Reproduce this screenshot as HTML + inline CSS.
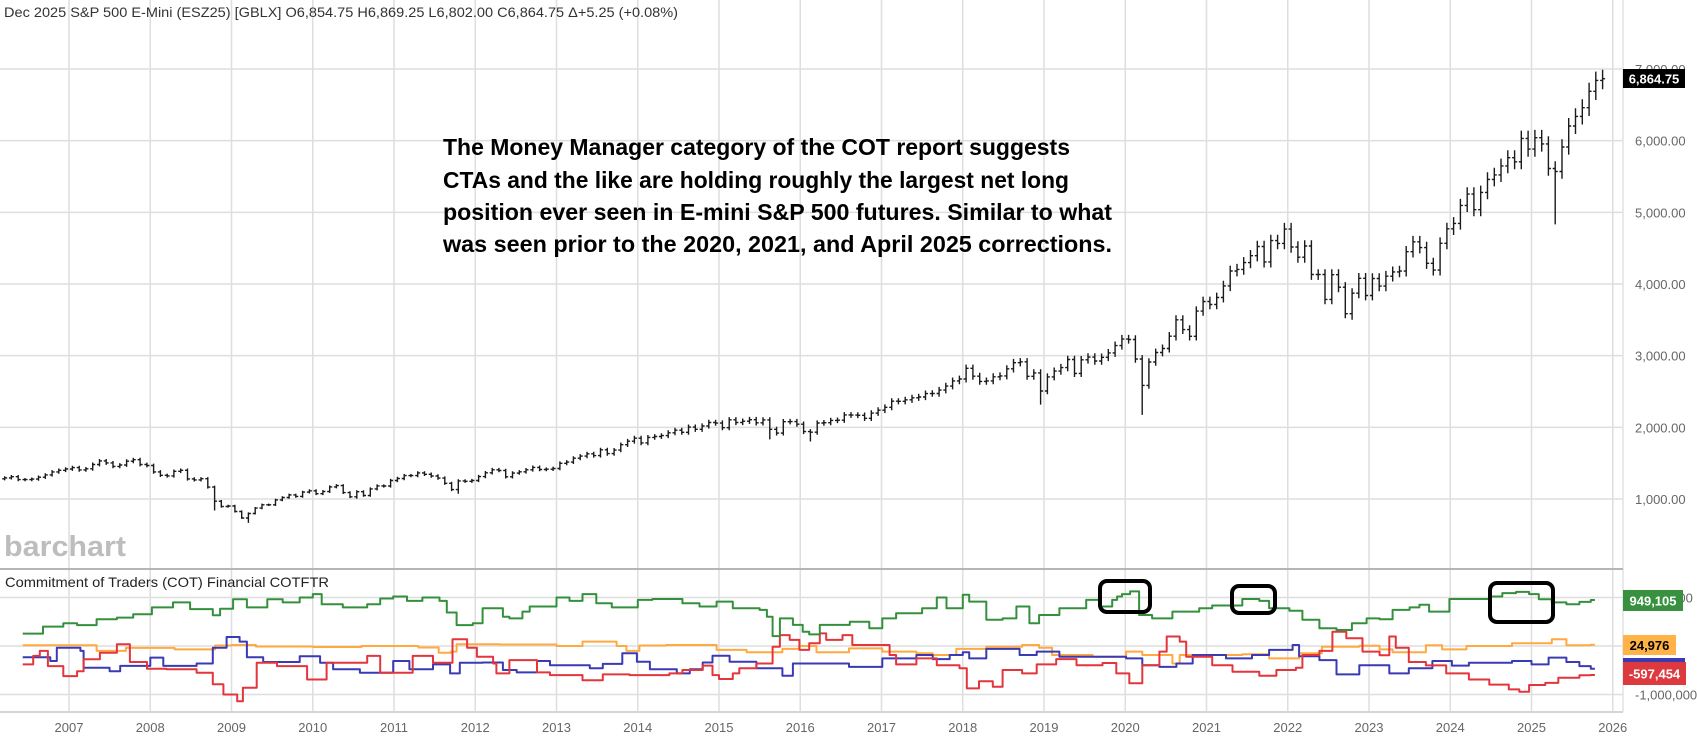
<!DOCTYPE html>
<html><head><meta charset="utf-8"><title>S&P 500 E-Mini with COT</title>
<style>
html,body{margin:0;padding:0;background:#fff;}
svg{display:block;font-family:"Liberation Sans",sans-serif;}
</style></head>
<body>
<svg id="chart" width="1697" height="739" viewBox="0 0 1697 739" xmlns="http://www.w3.org/2000/svg">
<rect x="0" y="0" width="1697" height="739" fill="#fff"/>
<g id="grid"></g>
<text x="4" y="17" font-size="14" fill="#333" textLength="674" lengthAdjust="spacingAndGlyphs">Dec 2025 S&amp;P 500 E-Mini (ESZ25) [GBLX]  O6,854.75  H6,869.25  L6,802.00  C6,864.75  Δ+5.25 (+0.08%)</text>
<g font-size="23" font-weight="bold" fill="#000">
<text x="443" y="155" textLength="627" lengthAdjust="spacingAndGlyphs">The Money Manager category of the COT report suggests</text>
<text x="443" y="188" textLength="626" lengthAdjust="spacingAndGlyphs">CTAs and the like are holding roughly the largest net long</text>
<text x="443" y="220" textLength="669" lengthAdjust="spacingAndGlyphs">position ever seen in E-mini S&amp;P 500 futures. Similar to what</text>
<text x="443" y="252" textLength="669" lengthAdjust="spacingAndGlyphs">was seen prior to the 2020, 2021, and April 2025 corrections.</text>
</g>
<text x="4" y="556" font-size="29" font-weight="bold" fill="#bdbdbd" textLength="122" lengthAdjust="spacingAndGlyphs">barchart</text>
<line x1="0" y1="569" x2="1623" y2="569" stroke="#b5b5b5" stroke-width="2"/>
<text x="5" y="587" font-size="14" fill="#222" textLength="324" lengthAdjust="spacingAndGlyphs">Commitment of Traders (COT) Financial  COTFTR</text>
<g id="bars"></g>
<g id="cot"></g>
<g id="axes"></g>
<g fill="none" stroke="#000" stroke-width="4">
<rect x="1100" y="581" width="50" height="31" rx="7"/>
<rect x="1232" y="586" width="43" height="27" rx="7"/>
<rect x="1490" y="583" width="63" height="39" rx="7"/>
</g>
</svg>
<script>
const years = [2007,2008,2009,2010,2011,2012,2013,2014,2015,2016,2017,2018,2019,2020,2021,2022,2023,2024,2025,2026];
const priceTicks = [1000,2000,3000,4000,5000,6000,7000];
const cotTicks = [1000,0,-1000];
const priceStart = 2006 + 2/12;
const closes = [
1295,1311,1270,1270,1277,1304,1336,1378,1401,1418,
1438,1406,1421,1482,1531,1503,1455,1474,1527,1549,1481,1468,
1378,1331,1323,1386,1400,1280,1267,1283,1166,969,896,903,
826,735,798,873,919,919,987,1021,1057,1036,1096,1115,
1074,1104,1169,1187,1089,1031,1102,1049,1141,1183,1181,1258,
1286,1327,1326,1364,1345,1321,1292,1219,1131,1253,1247,1258,
1312,1366,1408,1398,1310,1362,1379,1407,1441,1412,1416,1426,
1498,1515,1569,1598,1631,1606,1686,1633,1682,1757,1806,1848,
1783,1859,1872,1884,1924,1960,1931,2003,1972,2018,2068,2059,
1995,2105,2068,2086,2107,2063,2104,1972,1920,2079,2080,2044,
1940,1932,2060,2065,2097,2099,2174,2171,2168,2126,2199,2239,
2279,2364,2363,2384,2412,2423,2470,2472,2519,2575,2648,2674,
2824,2714,2641,2648,2705,2718,2816,2902,2914,2712,2760,2507,
2704,2784,2834,2946,2752,2942,2980,2926,2977,3038,3141,3231,
3226,2954,2585,2912,3044,3100,3271,3500,3363,3270,3622,3756,
3714,3811,3973,4181,4204,4298,4395,4523,4308,4605,4567,4766,
4516,4374,4530,4132,4132,3785,4130,3955,3586,3872,4080,3840,
4077,3970,4109,4169,4180,4450,4589,4508,4288,4194,4568,4770,
4846,5096,5254,5036,5278,5460,5522,5648,5762,5705,6032,5882,
6041,5955,5612,5569,5912,6205,6339,6460,6688,6840,6865];
const lowMonths = ['2008-10','2009-3','2010-7','2011-10','2015-8','2016-2','2018-12','2020-3','2022-10','2025-4'];
const lowValues = [840,667,1003,1074,1831,1802,2317,2174,3502,4832];

const seriesEnd = 2025.78;
const greenT = [2006.43,2006.68,2006.93,2007.10,2007.34,2007.59,2007.79,2008.02,2008.28,2008.49,2008.77,2008.86,2009.02,2009.19,2009.44,2009.63,2009.84,2010.0,2010.11,2010.37,2010.67,2010.83,2010.99,2011.16,2011.35,2011.56,2011.65,2011.77,2011.97,2012.09,2012.34,2012.42,2012.58,2012.67,2013.0,2013.16,2013.32,2013.49,2013.68,2014.0,2014.18,2014.55,2014.76,2014.97,2015.17,2015.5,2015.59,2015.66,2015.75,2015.91,2016.03,2016.11,2016.24,2016.61,2016.85,2017.01,2017.18,2017.5,2017.68,2017.8,2018.0,2018.08,2018.29,2018.49,2018.66,2018.82,2018.94,2019.19,2019.52,2019.68,2019.84,2019.9,2019.96,2020.06,2020.17,2020.33,2020.58,2020.91,2021.07,2021.44,2021.65,2021.77,2022.02,2022.18,2022.39,2022.6,2022.79,2022.97,2023.13,2023.29,2023.5,2023.62,2023.74,2023.99,2024.48,2024.64,2024.81,2024.97,2025.09,2025.25,2025.43,2025.59,2025.73];
const greenV = [255,400,470,430,550,585,655,795,900,760,635,770,965,795,965,900,1000,1070,860,795,860,980,1020,930,1000,930,690,430,470,780,605,570,710,815,1000,930,1070,880,795,950,970,880,815,915,780,745,605,205,570,435,295,240,435,500,365,570,675,780,1000,780,1055,915,540,570,815,470,640,780,950,815,950,1020,1070,1125,640,570,710,780,835,970,930,780,725,540,365,330,470,570,550,745,795,850,710,970,1020,1090,1115,1070,965,900,860,910,949];
const orangeT = [2006.43,2007.34,2007.7,2008.3,2008.8,2009.0,2009.3,2010.0,2010.6,2011.3,2011.55,2011.7,2011.77,2012.3,2013.0,2013.32,2013.74,2013.86,2014.02,2014.35,2014.97,2015.34,2015.78,2015.99,2016.2,2016.6,2017.01,2017.43,2017.63,2017.92,2018.29,2018.73,2018.94,2019.1,2019.6,2020.01,2020.21,2020.58,2020.67,2021.44,2021.77,2022.14,2022.42,2022.88,2023.13,2023.29,2023.7,2023.9,2024.2,2024.76,2025.25,2025.43,2025.73];
const orangeV = [15,-100,-40,-70,10,20,-10,-20,0,-30,-140,-115,35,30,0,90,0,-100,10,20,-80,-130,-60,0,-130,-50,-115,-150,-185,-60,-15,20,-35,-185,-220,-115,-185,-360,-185,-170,-255,-150,-15,5,-70,-130,15,-70,0,55,140,15,25];
const blueT = [2006.43,2006.77,2006.85,2007.14,2007.18,2007.5,2007.63,2008.0,2008.16,2008.57,2008.77,2008.94,2009.1,2009.19,2009.39,2009.84,2010.09,2010.25,2010.58,2010.99,2011.19,2011.48,2011.69,2011.81,2012.09,2012.34,2012.51,2012.76,2012.92,2013.41,2013.57,2013.81,2013.99,2014.15,2014.48,2014.64,2014.8,2014.92,2015.13,2015.46,2015.78,2015.91,2016.6,2017.01,2017.43,2017.63,2017.84,2018.0,2018.08,2018.29,2018.7,2018.91,2019.19,2020.01,2020.21,2020.42,2020.63,2020.83,2021.24,2021.56,2021.77,2022.06,2022.14,2022.39,2022.6,2022.88,2023.25,2023.49,2023.78,2024.02,2024.23,2024.76,2025.0,2025.21,2025.43,2025.59,2025.73];
const blueV = [-230,-310,-35,-100,-450,-520,-410,-240,-410,-360,-35,185,90,-230,-330,-210,-345,-480,-550,-310,-480,-380,-565,-345,-340,-495,-545,-310,-395,-460,-370,-150,-325,-480,-565,-480,-340,-200,-325,-460,-615,-360,-430,-255,-185,-270,-185,-130,-255,-60,-185,-115,-220,-255,-395,-430,-360,-185,-255,-185,-80,20,-210,-290,-585,-395,-565,-460,-310,-405,-345,-310,-380,-240,-330,-415,-470];
const redT = [2006.43,2006.56,2006.64,2006.74,2006.93,2007.1,2007.18,2007.38,2007.59,2007.75,2007.96,2008.2,2008.57,2008.77,2008.9,2009.07,2009.14,2009.31,2009.56,2009.93,2010.17,2010.67,2010.83,2011.23,2011.48,2011.72,2011.9,2012.02,2012.22,2012.26,2012.42,2012.76,2012.92,2013.32,2013.57,2013.9,2014.39,2014.55,2014.8,2014.92,2015.0,2015.17,2015.25,2015.46,2015.66,2015.75,2015.87,2015.99,2016.11,2016.24,2016.32,2016.52,2016.64,2017.1,2017.18,2017.43,2017.68,2017.96,2018.05,2018.2,2018.37,2018.49,2018.73,2018.91,2019.15,2019.4,2019.72,2019.89,2020.05,2020.21,2020.42,2020.51,2020.67,2020.75,2021.07,2021.32,2021.65,2021.86,2022.1,2022.18,2022.39,2022.55,2022.72,2022.92,2023.13,2023.25,2023.33,2023.49,2023.7,2023.95,2024.23,2024.48,2024.72,2024.85,2024.97,2025.17,2025.33,2025.59,2025.73];
const redV = [-380,-205,-100,-415,-620,-520,-275,-140,35,-330,-470,-480,-550,-790,-1000,-1140,-860,-345,-415,-690,-345,-205,-550,-205,-345,140,-35,-220,-360,-565,-290,-545,-600,-705,-585,-600,-565,-495,-405,-600,-680,-565,-460,-360,-15,225,125,-80,55,260,125,225,20,-185,-380,-255,-395,-460,-875,-725,-840,-495,-565,-380,-270,-395,-350,-565,-770,-395,-115,195,90,-220,-395,-530,-615,-495,-450,-185,-100,295,160,-115,-190,195,-35,-330,-400,-565,-690,-795,-895,-945,-805,-760,-655,-605,-597];

const NS = 'http://www.w3.org/2000/svg';
function X(t){ return 69 + (t-2007)*81.25; }
function YP(v){ return 499 - (v-1000)*0.07167; }
function YC(k){ return 646 - k*0.0485; }
function mk(tag, attrs, parent){ const e=document.createElementNS(NS,tag); for(const k in attrs) e.setAttribute(k, attrs[k]); parent.appendChild(e); return e; }

const grid = document.getElementById('grid');
const axes = document.getElementById('axes');
years.forEach(yr=>{
  const gl = mk('line',{x1:X(yr),x2:X(yr),y1:0,y2:712,stroke:'#dedede','stroke-width':1.5},grid);
  
  
  const lb = mk('text',{x:X(yr),y:732,'font-size':13,fill:'#666','text-anchor':'middle'},axes);
  lb.textContent = yr;
  
  
});
priceTicks.forEach(v=>{
  const gl = mk('line',{x1:0,x2:1623,y1:YP(v),y2:YP(v),stroke:'#dedede','stroke-width':1.5},grid);
  
  
  const lb = mk('text',{x:1635,y:YP(v)+5,'font-size':13,fill:'#666'},axes);
  lb.textContent = v.toLocaleString('en-US')+'.00';
  
  
});
cotTicks.forEach(k=>{
  const gl = mk('line',{x1:0,x2:1623,y1:YC(k),y2:YC(k),stroke:'#dedede','stroke-width':1.5},grid);
  
  
  const lb = mk('text',{x:1635,y:YC(k)+5,'font-size':13,fill:'#666'},axes);
  lb.textContent = (k*1000).toLocaleString('en-US');
  
  
});
const bl = mk('line',{x1:0,x2:1623,y1:712,y2:712,stroke:'#d5d5d5','stroke-width':2},grid);


const rl = mk('line',{x1:1623,x2:1623,y1:0,y2:712,stroke:'#e2e2e2','stroke-width':1.5},grid);



// price bars
const bars = document.getElementById('bars');
const lowMap = {};
lowMonths.forEach((m,i)=>{ lowMap[m]=lowValues[i]; });
let d='';
closes.forEach((c,i)=>{
  const o = i>0 ? closes[i-1] : c*0.99;
  const t = priceStart + (i+0.5)/12;
  const mIdx = 2 + i; const yr = 2006 + Math.floor(mIdx/12); const mo = (mIdx%12)+1;
  let hi = Math.max(o,c)*1.018, lo = Math.min(o,c)*0.982;
  if(lowMap[yr+'-'+mo]!==undefined) lo = lowMap[yr+'-'+mo];
  const x = X(t);
  d += `M${x.toFixed(1)} ${YP(hi).toFixed(1)}V${YP(lo).toFixed(1)}M${(x-2.5).toFixed(1)} ${YP(o).toFixed(1)}H${x.toFixed(1)}M${x.toFixed(1)} ${YP(c).toFixed(1)}H${(x+2.5).toFixed(1)}`;
});
const bp = mk('path',{d:d,stroke:'#1a1a1a','stroke-width':1.4,fill:'none'},bars);



// cot step lines
const cot = document.getElementById('cot');
function step(T,V,color,name){
  let p = `M${X(T[0]).toFixed(1)} ${YC(V[0]).toFixed(1)}`;
  for(let i=1;i<T.length;i++){ p += `H${X(T[i]).toFixed(1)}V${YC(V[i]).toFixed(1)}`; }
  p += `H${X(seriesEnd).toFixed(1)}`;
  const e = mk('path',{d:p,stroke:color,'stroke-width':2,fill:'none','stroke-linejoin':'round'},cot);
  
  
}
step(orangeT,orangeV,'#ffa940','cot-line-orange');
step(blueT,blueV,'#3a3ab4','cot-line-blue');
step(redT,redV,'#e3363c','cot-line-red');
step(greenT,greenV,'#34903c','cot-line-green');

// value tags
function tag(y,h,w,bg,fg,txt,name){
  const r = mk('rect',{x:1623,y:y,width:w,height:h,fill:bg},axes);
  
  
  const t = mk('text',{x:1623+w/2,y:y+h/2+5,'font-size':13,'font-weight':'bold',fill:fg,'text-anchor':'middle'},axes);
  t.textContent = txt;
  
  
}
tag(69,19,62,'#000','#fff','6,864.75','last-price-tag');
tag(590,21,60,'#37913f','#fff','949,105','green-value-tag');
tag(635,20,53,'#ffb347','#000','24,976','orange-value-tag');
tag(658,20,62,'#3a3ab4','#fff','-460,470','blue-value-tag');
tag(662,23,63,'#dc3a3e','#fff','-597,454','red-value-tag');
</script>
</body></html>
